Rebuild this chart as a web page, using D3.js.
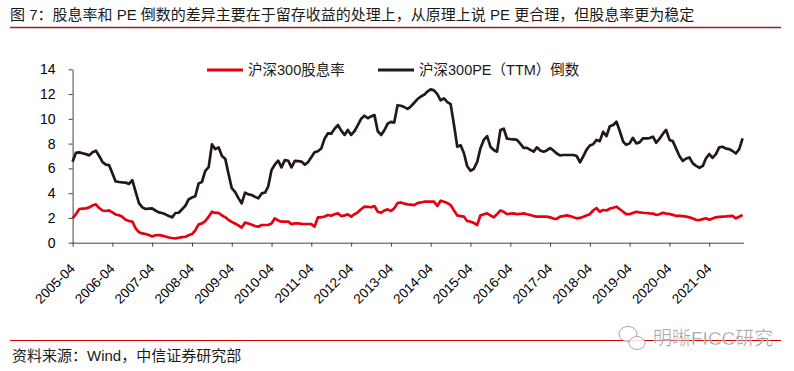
<!DOCTYPE html>
<html>
<head>
<meta charset="utf-8">
<script src="https://cdn.jsdelivr.net/npm/d3@7/dist/d3.min.js"></script>
<style>
	body { margin: 0; background: #fff; }
	text { font-family: "Liberation Sans", Arial, "Noto Sans CJK SC", sans-serif; }
</style>
</head>
<body>
<svg id="chart" width="794" height="371"></svg>
<script>
'use strict';

// monthly, first month 2005-04, last 2022-02
var firstMonth = "2005-04";

// 沪深300股息率 (%)
var dividendYield = [
	1.97, 2.3, 2.72, 2.75, 2.77, 2.85, 3.0, 3.1, 2.8, 2.6, 2.56, 2.61,
	2.45, 2.28, 2.22, 2.1, 1.85, 1.75, 1.7, 1.15, 0.85, 0.75, 0.7, 0.62,
	0.5, 0.6, 0.62, 0.57, 0.5, 0.42, 0.38, 0.35, 0.4, 0.45, 0.48, 0.6,
	0.7, 1.0, 1.48, 1.56, 1.75, 2.1, 2.5, 2.4, 2.4, 2.2, 2.05, 1.85,
	1.68, 1.55, 1.4, 1.22, 1.62, 1.55, 1.45, 1.35, 1.29, 1.43, 1.43, 1.43,
	1.55, 1.97, 1.8, 1.7, 1.7, 1.7, 1.5, 1.56, 1.56, 1.52, 1.51, 1.51,
	1.5, 1.3, 2.05, 2.05, 2.12, 2.24, 2.18, 2.3, 2.37, 2.15, 2.2, 2.29,
	2.1, 2.3, 2.45, 2.7, 2.91, 2.9, 2.86, 2.96, 2.5, 2.42, 2.6, 2.69,
	2.56, 2.77, 3.2, 3.25, 3.15, 3.1, 3.08, 3.04, 3.2, 3.25, 3.31, 3.31,
	3.31, 3.31, 2.96, 3.39, 3.3, 3.2, 3.04, 2.6, 2.2, 2.15, 2.1, 1.75,
	1.7, 1.6, 1.43, 2.2, 2.3, 2.37, 2.2, 2.05, 2.3, 2.6, 2.5, 2.3,
	2.35, 2.37, 2.3, 2.32, 2.37, 2.3, 2.24, 2.15, 2.1, 2.1, 2.1, 2.1,
	2.05, 1.95, 1.92, 2.1, 2.15, 2.2, 2.15, 2.05, 1.97, 2.0, 2.1, 2.2,
	2.3, 2.6, 2.8, 2.5, 2.64, 2.6, 2.75, 2.82, 2.91, 2.7, 2.5, 2.3,
	2.3, 2.4, 2.5, 2.45, 2.42, 2.4, 2.37, 2.35, 2.24, 2.3, 2.42, 2.35,
	2.32, 2.25, 2.16, 2.16, 2.15, 2.1, 2.05, 1.95, 1.85, 1.83, 1.9, 1.97,
	1.85, 1.95, 2.05, 2.08, 2.1, 2.12, 2.15, 2.16, 1.97, 2.1, 2.24
];

// 沪深300PE（TTM）倒数 (%)
var peInverse = [
	6.54, 7.25, 7.29, 7.22, 7.15, 7.05, 7.3, 7.43, 7.0, 6.5, 6.3, 6.27,
	5.6, 4.95, 4.9, 4.87, 4.85, 4.75, 5.05, 4.1, 3.2, 2.85, 2.72, 2.75,
	2.77, 2.6, 2.45, 2.4, 2.29, 2.15, 2.05, 2.4, 2.42, 2.7, 2.99, 3.5,
	3.65, 3.75, 4.79, 4.9, 5.8, 6.1, 7.94, 7.55, 7.7, 7.0, 6.75, 5.6,
	4.4, 4.1, 3.6, 3.18, 4.04, 3.9, 3.85, 3.7, 3.58, 3.98, 4.05, 4.52,
	5.87, 6.3, 6.62, 6.08, 6.67, 6.62, 6.08, 6.6, 6.58, 6.55, 6.3, 6.5,
	6.9, 7.3, 7.38, 7.6, 8.4, 8.83, 8.8, 9.2, 9.5, 9.05, 8.7, 9.1,
	8.7, 9.0, 9.5, 10.0, 10.25, 10.05, 10.2, 10.3, 9.0, 8.7, 9.1, 9.6,
	9.75, 9.7, 11.1, 11.06, 10.95, 10.8, 11.0, 11.3, 11.6, 11.8, 11.95, 12.2,
	12.38, 12.3, 12.0, 11.5, 11.65, 11.35, 11.19, 9.5, 7.75, 7.86, 7.2, 6.2,
	5.81, 5.95, 6.5, 7.6, 8.3, 8.61, 7.75, 7.48, 7.35, 9.1, 9.2, 8.4,
	8.37, 8.35, 8.3, 8.0, 7.65, 7.65, 7.5, 7.35, 7.7, 7.45, 7.35, 7.45,
	7.64, 7.45, 7.2, 7.05, 7.08, 7.08, 7.08, 7.08, 7.0, 6.49, 7.0, 7.5,
	7.85, 7.95, 8.3, 8.2, 8.96, 8.6, 9.4, 9.5, 9.77, 9.0, 8.15, 7.9,
	8.02, 8.47, 8.02, 8.1, 8.42, 8.42, 8.45, 8.56, 8.07, 8.4, 8.8, 9.1,
	8.3, 8.2, 7.6, 7.0, 6.6, 6.8, 6.88, 6.4, 6.2, 6.05, 6.2, 6.8,
	7.16, 6.85, 7.15, 7.7, 7.75, 7.6, 7.55, 7.4, 7.2, 7.55, 8.42
];

var xTickLabels = ["2005-04", "2006-04", "2007-04", "2008-04", "2009-04", "2010-04",
	"2011-04", "2012-04", "2013-04", "2014-04", "2015-04", "2016-04", "2017-04",
	"2018-04", "2019-04", "2020-04", "2021-04"];
var yTicks = [0, 2, 4, 6, 8, 10, 12, 14];

var seriesNames = ["沪深300股息率", "沪深300PE（TTM）倒数"];
var seriesColours = ["#e60012", "#231815"];

var titleText = "图 7：股息率和 PE 倒数的差异主要在于留存收益的处理上，从原理上说 PE 更合理，但股息率更为稳定";
var sourceText = "资料来源：Wind，中信证券研究部";

var parseMonth = d3.timeParse("%Y-%m");
var start = parseMonth(firstMonth);
var dates = dividendYield.map(function (d, i) {
	return d3.timeMonth.offset(start, i);
});

var svg = d3.select("#chart");

var x = d3.scaleTime()
	.domain([dates[0], dates[dates.length - 1]])
	.range([72.6, 742.6]);

var y = d3.scaleLinear()
	.domain([0, 14])
	.range([242.7, 69.3]);

// title and its rule
svg.append("text")
	.attr("x", 10)
	.attr("y", 20)
	.attr("font-size", "15px")
	.attr("fill", "#1a1a1a")
	.text(titleText);

svg.append("line")
	.attr("x1", 10).attr("x2", 781)
	.attr("y1", 27.5).attr("y2", 27.5)
	.attr("stroke", "#a01c1c")
	.attr("stroke-width", 1.3);

// axes
var yAxis = d3.axisLeft(y)
	.tickValues(yTicks)
	.tickSizeInner(4)
	.tickSizeOuter(0)
	.tickPadding(13);

var gy = svg.append("g")
	.attr("transform", "translate(" + 72.6 + ",0)")
	.call(yAxis);
gy.selectAll("text")
	.attr("font-size", "14px")
	.attr("fill", "#000");

var xAxis = d3.axisBottom(x)
	.tickValues(xTickLabels.map(parseMonth))
	.tickFormat(d3.timeFormat("%Y-%m"))
	.tickSizeInner(4)
	.tickSizeOuter(0);

var gx = svg.append("g")
	.attr("transform", "translate(0," + 242.7 + ")")
	.call(xAxis);
gx.select(".domain").attr("d", "M72.6,0.5H744");
gx.selectAll("text")
	.attr("font-size", "13.5px")
	.attr("fill", "#000")
	.attr("text-anchor", "end")
	.attr("transform", "translate(-4,20) rotate(-45)")
	.attr("dy", "0.7em")
	.attr("y", 0);

svg.selectAll(".domain, .tick line")
	.attr("stroke", "#444")
	.attr("stroke-width", 1);

// lines
var line = d3.line()
	.x(function (d, i) { return x(dates[i]); })
	.y(function (d) { return y(d); });

[dividendYield, peInverse].forEach(function (series, k) {
	svg.append("path")
		.datum(series)
		.attr("fill", "none")
		.attr("stroke", seriesColours[k])
		.attr("stroke-width", 2.7)
		.attr("stroke-linejoin", "round")
		.attr("d", line);
});

// legend
var legendX = [207, 378];
var legend = svg.selectAll(".legend")
	.data(seriesNames)
	.enter()
	.append("g")
	.attr("class", "legend")
	.attr("transform", function (d, i) {
		return "translate(" + legendX[i] + "," + 70 + ")";
	});

legend.append("line")
	.attr("x1", 0).attr("x2", 36)
	.attr("stroke", function (d, i) { return seriesColours[i]; })
	.attr("stroke-width", 2.8);

legend.append("text")
	.attr("x", 41)
	.attr("dy", "0.36em")
	.attr("font-size", "14.5px")
	.attr("fill", "#1a1a1a")
	.text(function (d) { return d; });

// footer rule and source
svg.append("line")
	.attr("x1", 10).attr("x2", 781)
	.attr("y1", 340.5).attr("y2", 340.5)
	.attr("stroke", "#d40000")
	.attr("stroke-width", 1.2);

svg.append("text")
	.attr("x", 12)
	.attr("y", 361)
	.attr("font-size", "15px")
	.attr("fill", "#1a1a1a")
	.text(sourceText);

// watermark
var wm = svg.append("g").attr("opacity", 0.85);
wm.append("ellipse")
	.attr("cx", 628).attr("cy", 334).attr("rx", 9).attr("ry", 7.5)
	.attr("fill", "#fff").attr("stroke", "#999").attr("stroke-width", 1);
wm.append("ellipse")
	.attr("cx", 637).attr("cy", 343).attr("rx", 8).attr("ry", 6.5)
	.attr("fill", "#fff").attr("stroke", "#999").attr("stroke-width", 1);
wm.append("text")
	.attr("x", 653)
	.attr("y", 345)
	.attr("font-size", "19px")
	.attr("fill", "#777")
	.attr("stroke", "#fff")
	.attr("stroke-width", 0.5)
	.attr("font-family", "'Noto Sans CJK SC', sans-serif")
	.text("明晰FICC研究");
</script>
</body>
</html>
